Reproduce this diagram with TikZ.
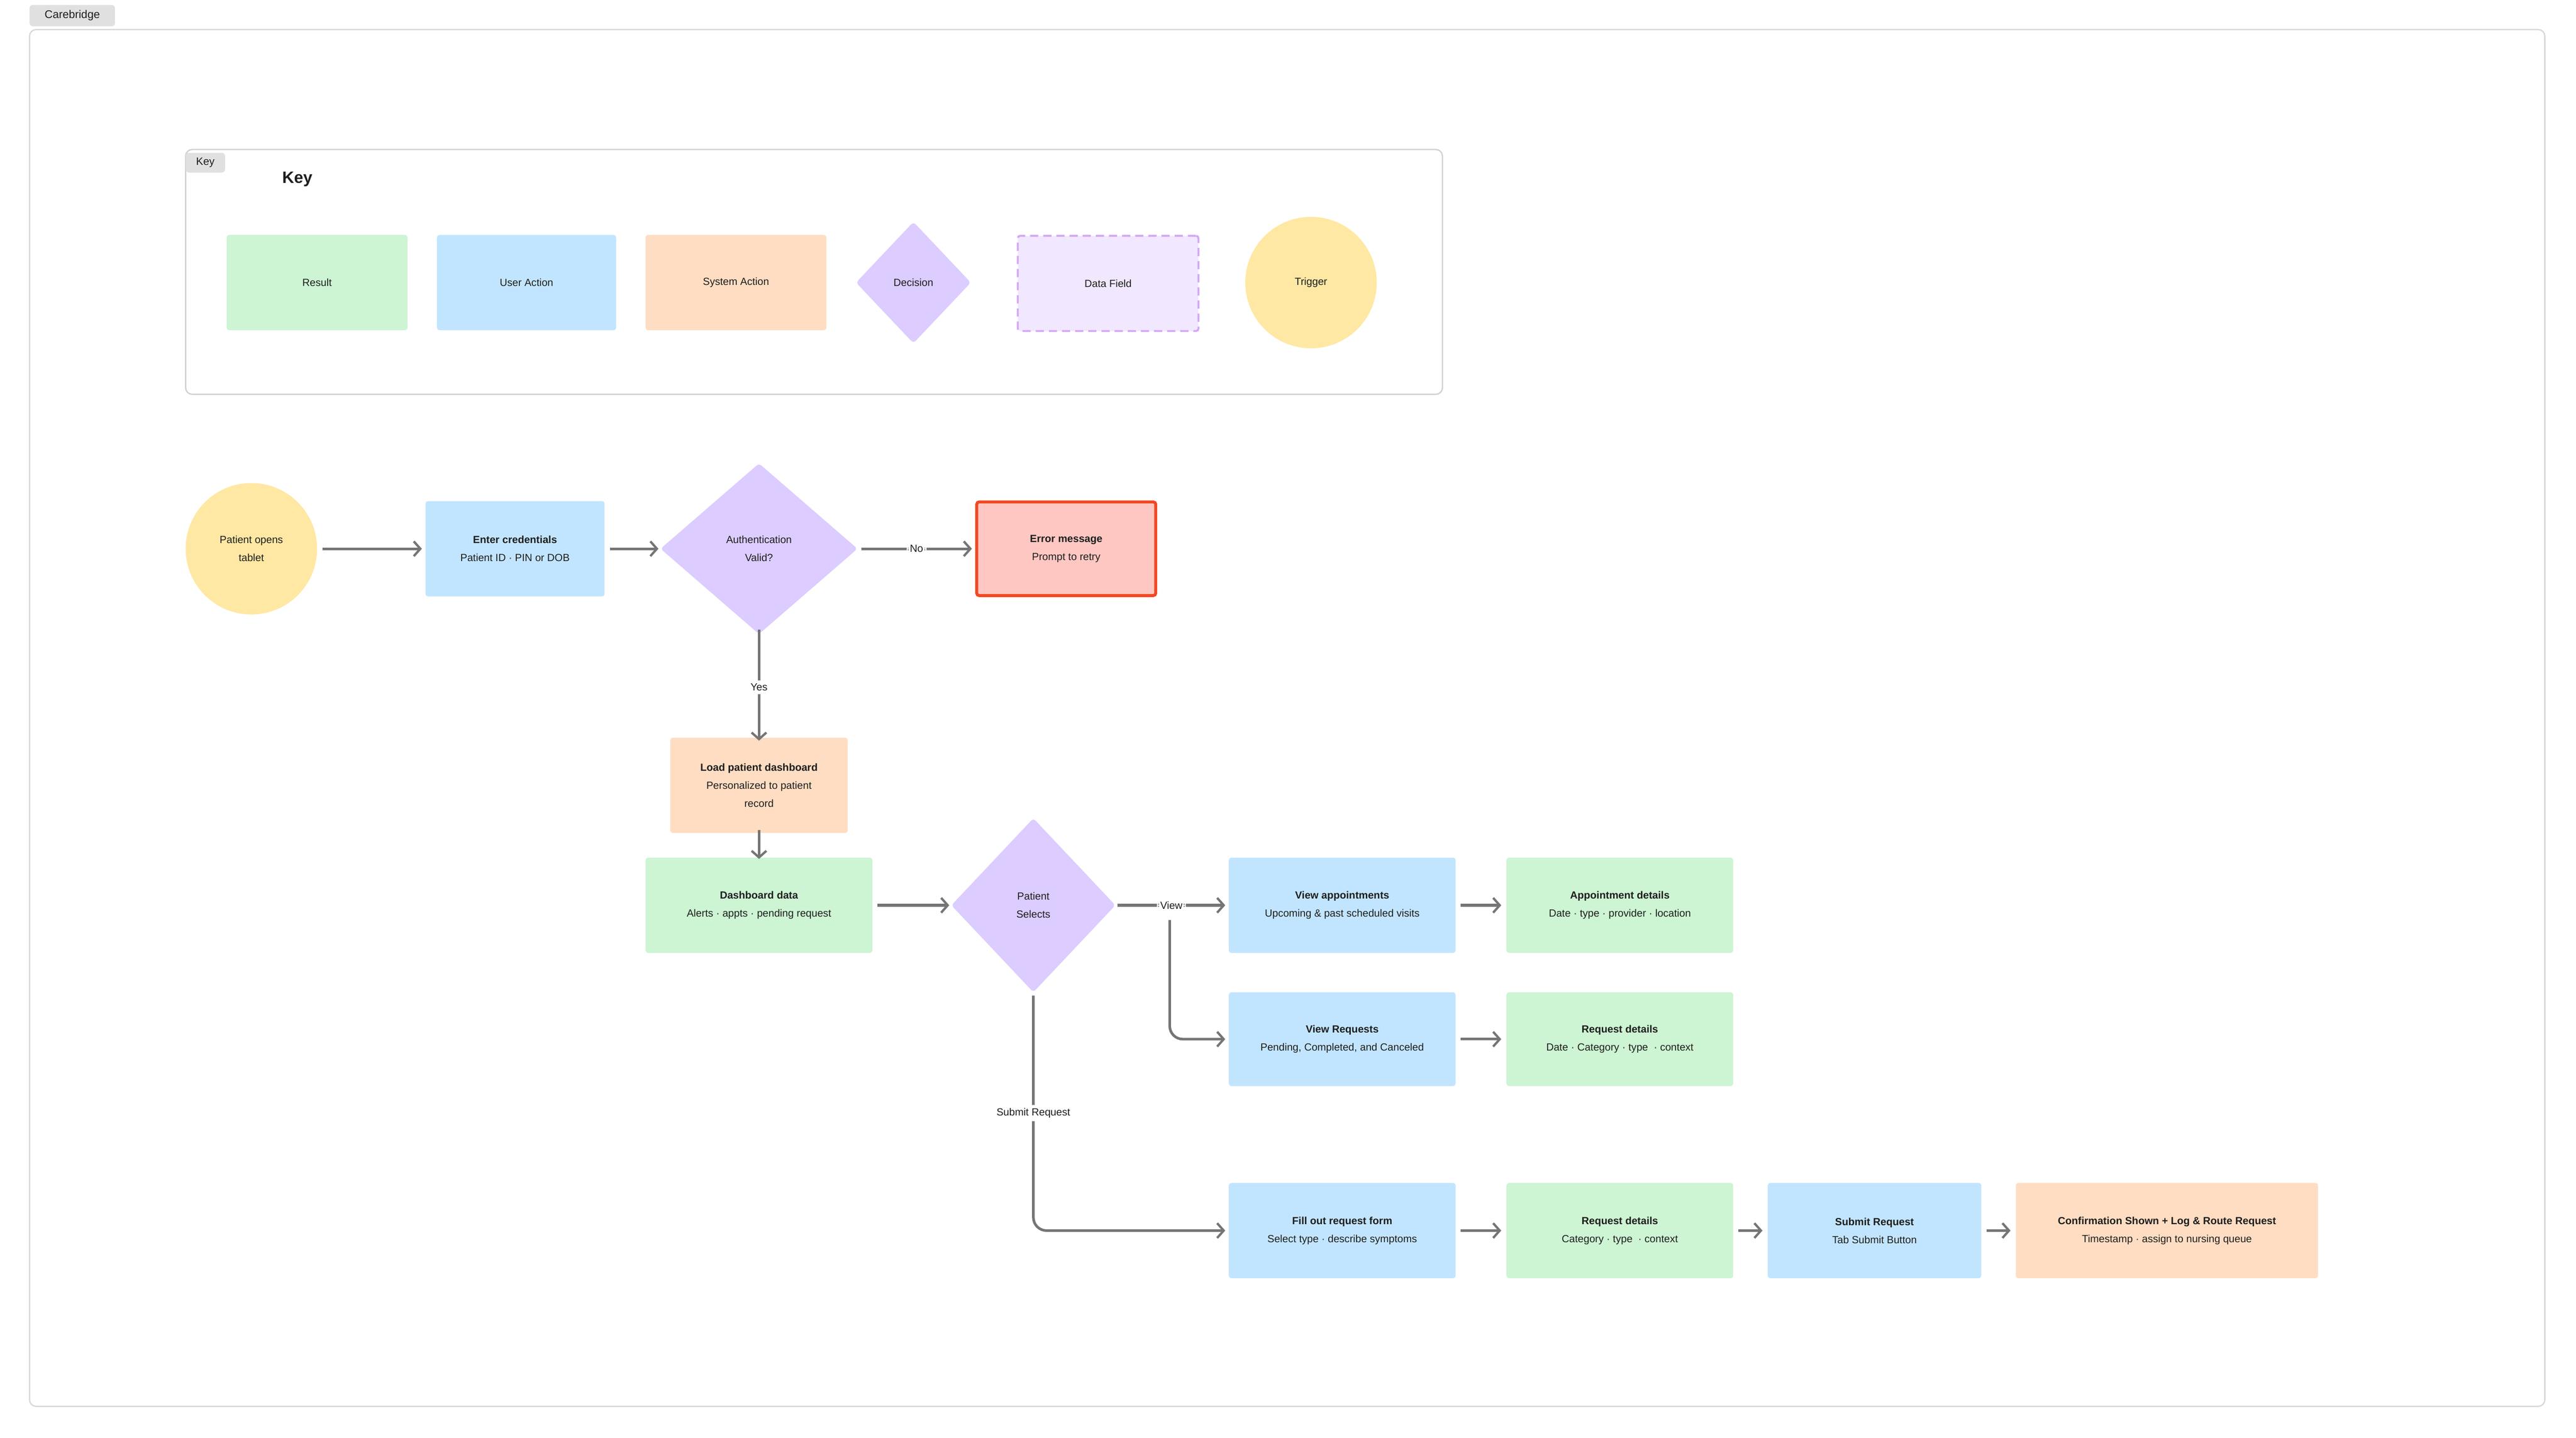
\documentclass[tikz,border=0pt]{standalone}
\usepackage{fontspec}
\setmainfont{Liberation Sans}
\usetikzlibrary{arrows.meta,shapes.geometric}
\definecolor{grn}{HTML}{CDF4D3}
\definecolor{blu}{HTML}{C2E5FF}
\definecolor{org}{HTML}{FFDDC2}
\definecolor{pur}{HTML}{DCCCFF}
\definecolor{yel}{HTML}{FFE8A3}
\definecolor{lav}{HTML}{F1E8FF}
\definecolor{dsh}{HTML}{D3A8F5}
\definecolor{arr}{HTML}{757575}
\definecolor{errb}{HTML}{F24822}
\definecolor{errf}{HTML}{FFC7C2}
\definecolor{txt}{HTML}{1E1E1E}
\begin{document}
\begin{tikzpicture}[x=1pt,y=-1pt,
  every node/.style={text=txt,font=\fontsize{6.3}{11}\selectfont,align=center,inner sep=0},
  box/.style={rounded corners=1.5pt,minimum height=58pt},
  res/.style={box,fill=grn},
  act/.style={box,fill=blu},
  sys/.style={box,fill=org},
  dec/.style={diamond,fill=pur,rounded corners=2pt},
  trig/.style={circle,fill=yel,minimum size=80pt},
  con/.style={draw=arr,line width=1.6pt,-{Straight Barb[length=4pt,width=9pt,line width=1.4pt]},rounded corners=8pt},
  lbl/.style={fill=white,inner sep=2pt}]
\useasboundingbox (0,0) rectangle (1568,875);
% frame
\node[fill=black!12,rounded corners=2pt,minimum width=52pt,minimum height=13pt,font=\fontsize{6.8}{8}\selectfont] (tab) at (44,9.5) {Carebridge};
\draw[black!15,line width=0.8pt,rounded corners=4pt] (18,18) rectangle (1549,856);
% key
\draw[black!18,line width=0.8pt,rounded corners=4pt] (113,91) rectangle (878,240);
\node[fill=black!12,rounded corners=2pt,minimum width=24pt,minimum height=12pt,font=\fontsize{6.5}{8}\selectfont] (ktab) at (125,99) {Key};
\node[font=\fontsize{10}{12}\selectfont\bfseries] (ktitle) at (181,109) {Key};
\node[res,minimum width=110pt] (kres) at (193,172) {Result};
\node[act,minimum width=109pt] (kact) at (320.5,172) {User Action};
\node[sys,minimum width=110pt] (ksys) at (448,172) {System Action};
\node[dec,minimum width=70pt,minimum height=74pt] (kdec) at (556,172) {Decision};
\node[box,fill=lav,draw=dsh,dashed,line width=1.2pt,dash pattern=on 5pt off 3pt,minimum width=110pt,minimum height=58pt] (kdat) at (674.5,172.5) {Data Field};
\node[trig] (ktrig) at (798,172) {Trigger};
% main flow
\node[trig] (start) at (153,334) {Patient opens\\tablet};
\node[act,minimum width=109pt] (cred) at (313.5,334) {\textbf{Enter credentials}\\Patient ID · PIN or DOB};
\node[dec,minimum width=120pt,minimum height=104pt] (auth) at (462,334) {Authentication\\Valid?};
\node[box,fill=errf,draw=errb,line width=1.8pt,minimum width=109pt,minimum height=57pt] (err) at (649,334) {\textbf{Error message}\\Prompt to retry};
\node[sys,minimum width=108pt] (load) at (462,478) {\textbf{Load patient dashboard}\\Personalized to patient\\record};
\node[res,minimum width=138pt] (dash) at (462,551) {\textbf{Dashboard data}\\Alerts · appts · pending request};
\node[dec,minimum width=100pt,minimum height=106pt] (sel) at (629,551) {Patient\\Selects};
\node[act,minimum width=138pt] (vapp) at (817,551) {\textbf{View appointments}\\Upcoming \& past scheduled visits};
\node[res,minimum width=138pt] (appd) at (986,551) {\textbf{Appointment details}\\Date · type · provider · location};
\node[act,minimum width=138pt,minimum height=57pt] (vreq) at (817,632.5) {\textbf{View Requests}\\Pending, Completed, and Canceled};
\node[res,minimum width=138pt,minimum height=57pt] (reqd) at (986,632.5) {\textbf{Request details}\\Date · Category · type \ · context};
\node[act,minimum width=138pt] (form) at (817,749) {\textbf{Fill out request form}\\Select type · describe symptoms};
\node[res,minimum width=138pt] (reqd2) at (986,749) {\textbf{Request details}\\Category · type \ · context};
\node[act,minimum width=130pt] (sub) at (1141,749) {\textbf{Submit Request}\\Tab Submit Button};
\node[sys,minimum width=184pt] (conf) at (1319,749) {\textbf{Confirmation Shown + Log \& Route Request}\\Timestamp · assign to nursing queue};
% connectors
\draw[con] ([xshift=3pt]start.east) -- ([xshift=-2pt]cred.west);
\draw[con] ([xshift=3pt]cred.east) -- ([xshift=-1pt]auth.west);
\draw[con] ([xshift=2pt]auth.east) -- node[lbl] (no) {No} ([xshift=-2pt]err.west);
\draw[con] ([yshift=3pt]auth.south) -- node[lbl,pos=0.52] (yes) {Yes} ([yshift=-2pt]load.north);
\draw[con] ([yshift=2pt]load.south) -- ([yshift=-1pt]dash.north);
\draw[con] ([xshift=3pt]dash.east) -- ([xshift=-1pt]sel.west);
\draw[con] ([xshift=1pt]sel.east) -- node[lbl,pos=0.5] (view) {View} ([xshift=-2pt]vapp.west);
\coordinate (vb) at (712,560);
\draw[con] (vb) |- ([xshift=-2pt]vreq.west);
\draw[con] ([xshift=3pt]vapp.east) -- ([xshift=-3pt]appd.west);
\draw[con] ([xshift=3pt]vreq.east) -- ([xshift=-3pt]reqd.west);
\coordinate (sb) at (629,606);
\draw[con] (sb) |- node[lbl,pos=0.25] (subl) {Submit Request} ([xshift=-2pt]form.west);
\draw[con] ([xshift=3pt]form.east) -- ([xshift=-3pt]reqd2.west);
\draw[con] ([xshift=3pt]reqd2.east) -- ([xshift=-3pt]sub.west);
\draw[con] ([xshift=3pt]sub.east) -- ([xshift=-3pt]conf.west);
\end{tikzpicture}
\end{document}
